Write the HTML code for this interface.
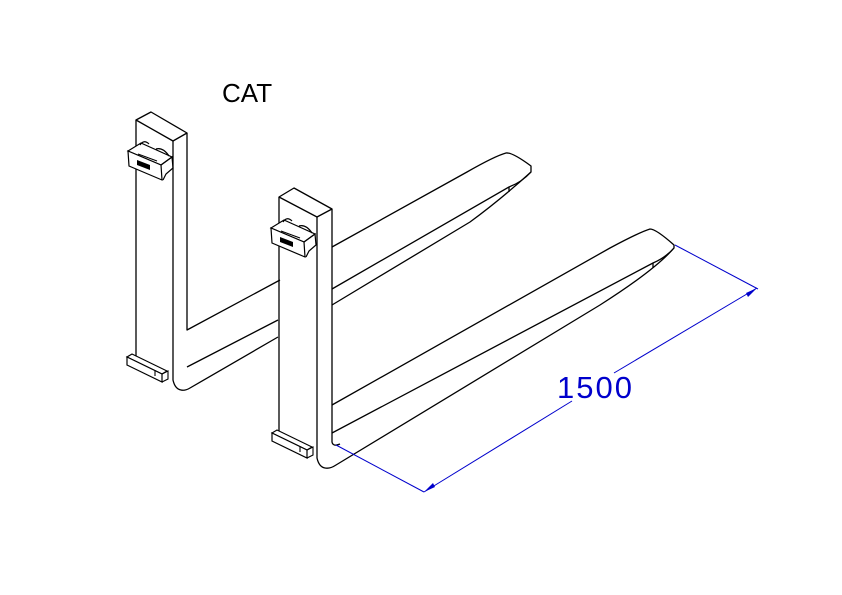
<!DOCTYPE html>
<html><head><meta charset="utf-8"><style>
html,body{margin:0;padding:0;background:#fff;}
svg{display:block;}
</style></head><body>
<svg width="842" height="595" viewBox="0 0 842 595" xmlns="http://www.w3.org/2000/svg">
<rect width="842" height="595" fill="#fff"/>
<text x="222" y="102" font-family="Liberation Sans, sans-serif" font-size="26" fill="#000">CAT</text>
<defs>
<g id="hook">
  <path d="M271,228 L284,220 L315,234 L304,242 Z" fill="#fff" stroke="#000" stroke-width="1.2"/>
  <path d="M271,228 L304,242 L305,257 L272,243 Z" fill="#fff" stroke="#000" stroke-width="1.2"/>
  <path d="M304,242 L315,234 L316,245 L309,251 L306,257" fill="none" stroke="#000" stroke-width="1.2"/>
  <path d="M283,222 Q287,216 292,221 M299,226 Q306,224 312,233" fill="none" stroke="#000" stroke-width="1.2"/>
  <path d="M281,231 L300,238" stroke="#000" stroke-width="1"/>
  <path d="M280,237 L293,242 L293,247 L280,242 Z" fill="#000"/>
</g>
<g id="clip">
  <path d="M272,433 L277,430 L312,447 L307,450 Z" fill="#fff" stroke="#000" stroke-width="1.2"/>
  <path d="M272,433 L307,450 L307,458 L272,441 Z" fill="#fff" stroke="#000" stroke-width="1.2"/>
  <path d="M300,446 L300,452 M307,450 L313,447 L313,455 L307,458" fill="none" stroke="#000" stroke-width="1.1"/>
</g>
</defs>
<g fill="none" stroke="#000" stroke-width="1.3" stroke-linejoin="round">
  <path d="M136,120 L151,112 L187,133 L173,141 Z"/>
  <path d="M136,120 L136,357"/>
  <path d="M173,141 L173,380 Q175,389 181,390 Q185,391 190,388 L278,337"/>
  <path d="M187,133 L187,330 L280,280"/>
  <path d="M187,367 L278,320"/>
  <path d="M332,247 L467,172 Q495,156 506,153 Q512,152 531,166 L531,172 Q522,182 509,187 L332,289"/>
  <path d="M332,305 L470,222 Q500,200 531,172"/>
  <path d="M509,187 L509,192"/>
  <path d="M279,197 L294,188 L332,209 L317,217 Z" fill="#fff"/>
  <path d="M279,197 L279,434"/>
  <path d="M317,217 L317,458 Q319,467 325,468 Q330,469 336,465 L600,305 Q655,270 674,248"/>
  <path d="M332,209 L332,442 Q333,447 340,444"/>
  <path d="M332,405 L610,248 Q640,232 650,229 Q656,229 674,245 L674,248 Q665,258 653,263 L332,433"/>
  <path d="M653,263 L653,268"/>
</g>
<use href="#hook"/>
<use href="#hook" transform="translate(-143,-77)"/>
<use href="#clip"/>
<use href="#clip" transform="translate(-145,-76)"/>
<g stroke="#0000cc" stroke-width="1" fill="none">
  <path d="M336,445 L424,492"/>
  <path d="M675,245 L758,289"/>
  <path d="M424,492 L572,401"/>
  <path d="M614,373 L757,288"/>
</g>
<path d="M424,492 L433,483 L435,487 Z" fill="#0000cc"/>
<path d="M757,288 L748,297 L746,293 Z" fill="#0000cc"/>
<text x="557" y="398" font-family="Liberation Sans, sans-serif" font-size="31" fill="#0000cc" textLength="75" style="font-weight:100">1500</text>
</svg>
</body></html>
